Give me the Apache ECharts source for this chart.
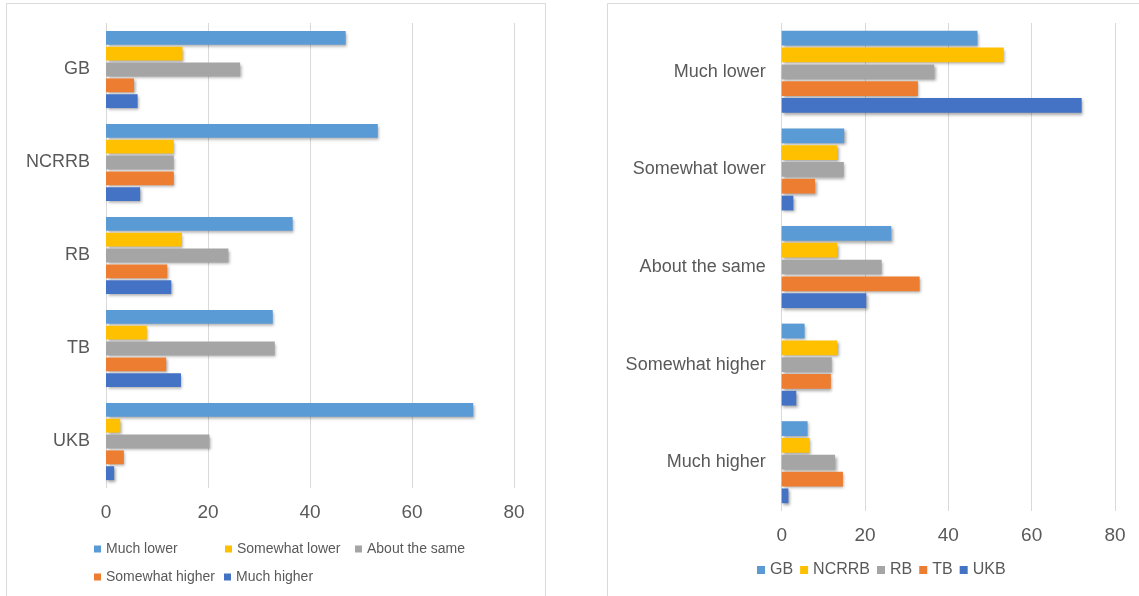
<!DOCTYPE html>
<html>
<head>
<meta charset="utf-8">
<script src="https://cdn.jsdelivr.net/npm/echarts@6/dist/echarts.min.js"></script>
<style>
  html, body { margin: 0; padding: 0; background: #ffffff; }
  #chart { width: 1139px; height: 596px; }
</style>
</head>
<body>
<div id="chart"></div>
<script>
// Categories
const banks = ['GB', 'NCRRB', 'RB', 'TB', 'UKB'];
const responses = ['Much lower', 'Somewhat lower', 'About the same', 'Somewhat higher', 'Much higher'];
// Values (percent) per bank, in order of responses
const gb    = [47.0, 15.0, 26.3, 5.5, 6.2];
const ncrrb = [53.3, 13.3, 13.3, 13.3, 6.7];
const rb    = [36.6, 14.9, 24.0, 12.0, 12.8];
const tb    = [32.7, 8.0, 33.1, 11.8, 14.7];
const ukb   = [72.0, 2.8, 20.3, 3.5, 1.6];
// Axis ticks
const xTicks = [0, 20, 40, 60, 80];

const bankValues = [gb, ncrrb, rb, tb, ukb];
const colors = ['#5B9BD5', '#FFC000', '#A5A5A5', '#ED7D31', '#4472C4'];
const FONT = "'Liberation Sans', Arial, sans-serif";
const TXT = '#595959';

const chart = echarts.init(document.getElementById('chart'), null, { renderer: 'canvas' });

const barStyle = (c) => ({
  color: c,
  shadowColor: 'rgba(0,0,0,0.35)',
  shadowBlur: 3,
  shadowOffsetX: 1.5,
  shadowOffsetY: 2
});

const series = [];
// Left panel: series = responses, categories = banks
responses.forEach((r, k) => {
  series.push({
    name: r,
    type: 'bar',
    xAxisIndex: 0,
    yAxisIndex: 0,
    data: bankValues.map(v => v[k]),
    barGap: '14%',
    barCategoryGap: '17%',
    itemStyle: barStyle(colors[k]),
    emphasis: { disabled: true }
  });
});
// Right panel: series = banks, categories = responses
banks.forEach((b, i) => {
  series.push({
    name: b,
    type: 'bar',
    xAxisIndex: 1,
    yAxisIndex: 1,
    data: bankValues[i].slice(),
    barGap: '14%',
    barCategoryGap: '16%',
    itemStyle: barStyle(colors[i]),
    emphasis: { disabled: true }
  });
});

const xAxisBase = (gridIndex) => ({
  type: 'value',
  gridIndex: gridIndex,
  min: xTicks[0],
  max: xTicks[xTicks.length - 1],
  interval: xTicks[1] - xTicks[0],
  axisLine: { show: false },
  axisTick: { show: false },
  splitLine: { show: true, lineStyle: { color: '#D9D9D9', width: 1 } },
  axisLabel: { color: TXT, fontSize: 19, fontFamily: FONT, margin: 15 }
});

const yAxisBase = (gridIndex, cats) => ({
  type: 'category',
  gridIndex: gridIndex,
  data: cats,
  inverse: true,
  axisLine: { show: false },
  axisTick: { show: false },
  splitLine: { show: false },
  axisLabel: { color: TXT, fontSize: 18, fontFamily: FONT, margin: 16 }
});

const legendItem = (name, left, top, size, fs) => ({
  data: [name],
  left: left,
  top: top,
  padding: 0,
  itemWidth: size,
  itemHeight: size,
  itemGap: 0,
  icon: 'rect',
  textStyle: { color: TXT, fontSize: fs, fontFamily: FONT },
  selectedMode: false
});

const option = {
  animation: false,
  backgroundColor: '#ffffff',
  graphic: [
    { type: 'rect', shape: { x: 6.5, y: 3.5, width: 539, height: 600 },
      style: { fill: 'none', stroke: '#D9D9D9', lineWidth: 1 }, z: -10 },
    { type: 'rect', shape: { x: 607.5, y: 3.5, width: 540, height: 600 },
      style: { fill: 'none', stroke: '#D9D9D9', lineWidth: 1 }, z: -10 }
  ],
  grid: [
    { left: 106, top: 23, width: 408, height: 465, containLabel: false },
    { left: 781.7, top: 23, width: 333.3, height: 488, containLabel: false }
  ],
  xAxis: [xAxisBase(0), xAxisBase(1)],
  yAxis: [yAxisBase(0, banks), yAxisBase(1, responses)],
  legend: [
    legendItem(responses[0], 94, 542, 7, 14),
    legendItem(responses[1], 225, 542, 7, 14),
    legendItem(responses[2], 355, 542, 7, 14),
    legendItem(responses[3], 94, 570, 7, 14),
    legendItem(responses[4], 224, 570, 7, 14),
    {
      data: banks,
      left: 757,
      top: 562,
      padding: 0,
      itemWidth: 8,
      itemHeight: 8,
      itemGap: 7,
      icon: 'rect',
      textStyle: { color: TXT, fontSize: 16, fontFamily: FONT },
      selectedMode: false
    }
  ],
  series: series
};

chart.setOption(option);
</script>
</body>
</html>
